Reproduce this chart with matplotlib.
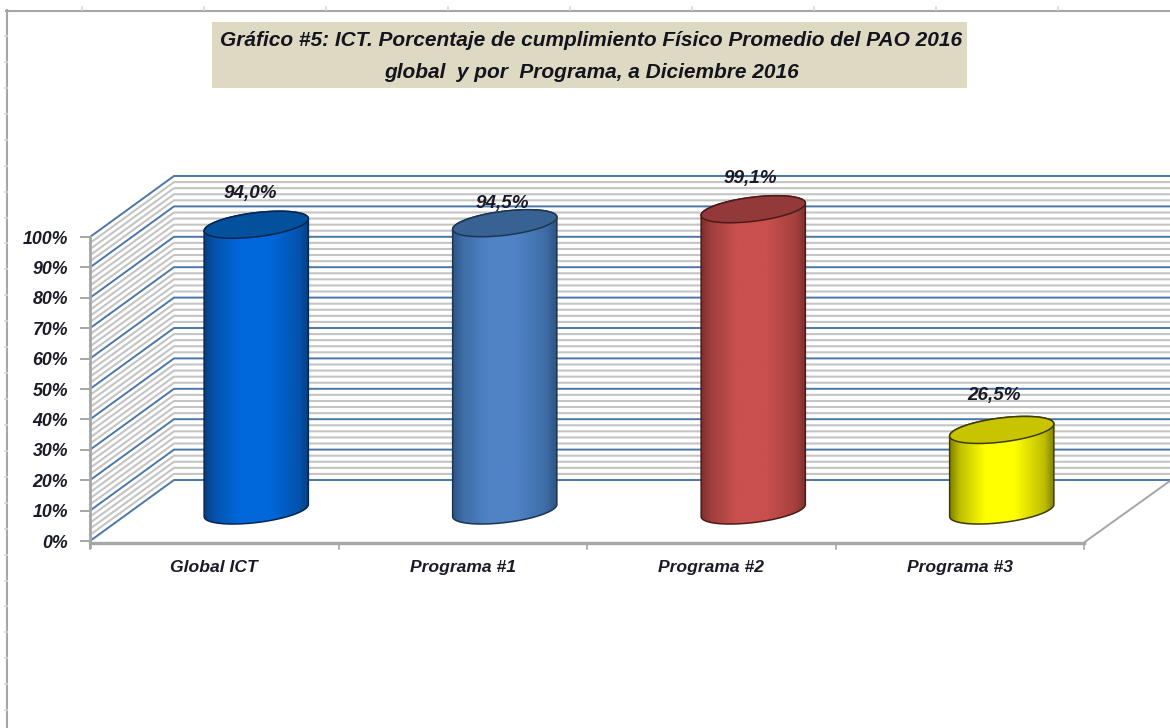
import numpy as np
import matplotlib
matplotlib.use("Agg")
import matplotlib.pyplot as plt
from matplotlib.patches import Polygon, Rectangle
from matplotlib.colors import LinearSegmentedColormap, to_rgb

categories = ["Global ICT", "Programa #1", "Programa #2", "Programa #3"]
values = [94.0, 94.5, 99.1, 26.5]
value_labels = ["94,0%", "94,5%", "99,1%", "26,5%"]
y_ticks = list(range(0, 101, 10))
minor_ticks = list(range(0, 101, 2))
title_lines = ["Gráfico #5: ICT. Porcentaje de cumplimiento Físico Promedio del PAO 2016",
               "global  y por  Programa, a Diciembre 2016"]

edge_cols = ["#073f80", "#2c5484", "#7c2f2d", "#7d7d00"]
mid_cols = ["#0068dc", "#4f83c6", "#c9504e", "#ffff00"]
cap_cols = ["#03509c", "#386294", "#93393a", "#c8c400"]
line_cols = ["#04264f", "#1d3550", "#4a1b1a", "#3e3c00"]
label_off = [(-6, -31), (-2, -20), (-3, -31), (-8, -34)]

W, H = 1170, 728
plt.rcParams['font.family'] = ['Liberation Sans', 'DejaVu Sans']
fig = plt.figure(figsize=(W / 100, H / 100), dpi=100, facecolor="white")

# outer frame (pixel coordinates)
bg = fig.add_axes([0, 0, 1, 1])
bg.set_xlim(0, W); bg.set_ylim(H, 0); bg.axis("off")
bg.plot([7, 7], [10, H], color="#a6a6a6", lw=1.5, zorder=1, clip_on=False)
bg.plot([6, W], [10.5, 10.5], color="#a6a6a6", lw=1.5, zorder=1, clip_on=False)
for x in range(82, W, 122):
    bg.plot([x, x], [7, 10], color="#d8d8d8", lw=1.2)
for y in np.arange(36, H, 25.93):
    bg.plot([5, 7], [y, y], color="#d8d8d8", lw=1.2)
bg.add_patch(Rectangle((212, 22), 755, 66, facecolor="#ddd9c3", edgecolor="none"))
for line, y in zip(title_lines, (40, 72)):
    bg.text(591, y, line, ha="center", va="center", fontsize=15.0, fontweight="bold",
            fontstyle="italic", color="#14141e")

# plot axes: front plane of the 3D box
L, R, T, B = 90, 1084, 237, 541
ax = fig.add_axes([L / W, 1 - B / H, (R - L) / W, (B - T) / H])
ax.patch.set_alpha(0)
ax.axis("off")
px_x = (R - L) / len(categories)
px_y = (B - T) / 100.0
DX, DY = 84 / px_x, 61 / px_y
x_max = (W - L) / px_x

for v in minor_ticks:
    if v % 10:
        ax.plot([0, DX, x_max], [v, v + DY, v + DY], color="#c4c4c4", lw=1.5, clip_on=False, zorder=1,
                solid_joinstyle="miter")
for v in y_ticks:
    ax.plot([0, DX, x_max], [v, v + DY, v + DY], color="#4a76aa", lw=1.4, clip_on=False, zorder=2,
            solid_joinstyle="miter")

ax.plot([len(categories), x_max], [-0.5, DY - 0.3], color="#a6a6a6", lw=1.4, clip_on=False, zorder=2)
ax.plot([0, 0], [-2, 100], color="#a6a6a6", lw=2.0, clip_on=False, zorder=3)
ax.plot([0, len(categories)], [-0.6, -0.6], color="#a6a6a6", lw=2.4, clip_on=False, zorder=3)
for v in y_ticks:
    ax.plot([-9 / px_x, 0], [v, v], color="#a6a6a6", lw=1.4, clip_on=False, zorder=3)
    ax.text(-22 / px_x, v - 0.7, f"{v}%", ha="right", va="center", fontsize=12.8, fontweight="bold",
            fontstyle="italic", color="#1b1b28")
for i in range(len(categories) + 1):
    ax.plot([i, i], [-0.6, -2.6], color="#a6a6a6", lw=1.2, clip_on=False, zorder=3)
for i, c in enumerate(categories):
    ax.text(i + 0.5, -8.6, c, ha="center", va="center", fontsize=12.6, fontweight="bold",
            fontstyle="italic", color="#1b1b28")

# cylinders
A, Bb, th = 52.5, 12.0, np.radians(7)


def ell(t):
    ex = A * np.cos(t) * np.cos(th) - Bb * np.sin(t) * np.sin(th)
    ey = A * np.cos(t) * np.sin(th) + Bb * np.sin(t) * np.cos(th)
    return ex / px_x, ey / px_y


def mix(a, b, f):
    a, b = np.array(to_rgb(a)), np.array(to_rgb(b))
    return tuple(a + (b - a) * f)


for i, v in enumerate(values):
    cx = i + 0.5 + DX / 2
    cy0 = DY / 2
    cy1 = cy0 + v
    bx, by = ell(np.linspace(np.pi, 2 * np.pi, 80))
    ux, uy = ell(np.linspace(0, np.pi, 80))
    body = np.column_stack([np.r_[cx + bx, cx + ux], np.r_[cy0 + by, cy1 + uy]])
    zb = 5 + i
    e, m = edge_cols[i], mid_cols[i]
    cmap = LinearSegmentedColormap.from_list(
        "c", [(0, e), (0.1, mix(e, m, 0.5)), (0.34, m), (0.62, m), (0.9, mix(e, m, 0.5)), (1, e)])
    poly = Polygon(body, closed=True, transform=ax.transData, facecolor="none",
                   edgecolor=line_cols[i], lw=1.1, zorder=zb + 0.2, clip_on=False)
    ax.add_patch(poly)
    im = ax.imshow(np.linspace(0, 1, 256).reshape(1, -1), cmap=cmap, aspect="auto",
                   extent=[cx - A / px_x, cx + A / px_x, cy0 - 15 / px_y, cy1 + 15 / px_y],
                   zorder=zb + 0.1)
    im.set_clip_path(poly)
    im.set_clip_box(fig.bbox)
    tx, ty = ell(np.linspace(0, 2 * np.pi, 160))
    ax.add_patch(Polygon(np.column_stack([cx + tx, cy1 + ty]), closed=True, facecolor=cap_cols[i],
                         edgecolor=line_cols[i], lw=1.1, zorder=zb + 0.3, clip_on=False))
    dx, dy = label_off[i]
    ax.text(cx + dx / px_x, cy1 - dy / px_y, value_labels[i], ha="center", va="center", fontsize=13.6,
            fontweight="bold", fontstyle="italic", color="#1b1b28", zorder=20)

ax.set_xlim(0, len(categories))
ax.set_ylim(0, 100)
fig.savefig("out.png", dpi=100)
